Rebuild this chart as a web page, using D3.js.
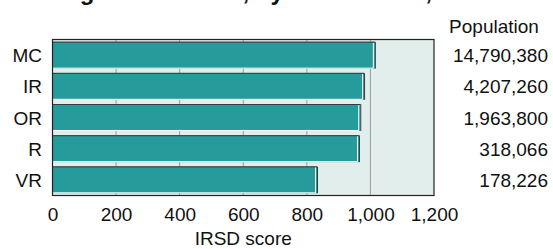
<!DOCTYPE html>
<html>
<head>
<meta charset="utf-8">
<script src="https://cdn.jsdelivr.net/npm/d3@7"></script>
<style>
  body { margin: 0; background: #fff; }
  svg text { font-family: "Liberation Sans", Arial, sans-serif; fill: #111; }
</style>
</head>
<body>
<script>
'use strict';

// chart data
const regions = ["MC", "IR", "OR", "R", "VR"];
const irsdScores = [1014, 980, 968, 964, 832];
const populations = [14790380, 4207260, 1963800, 318066, 178226];
const xTicks = [0, 200, 400, 600, 800, 1000, 1200];

const width = 553, height = 249;
const plot = { left: 52.5, right: 434, top: 39.5, bottom: 195.5 };

const svg = d3.select('body').append('svg')
  .attr('width', width)
  .attr('height', height);

const x = d3.scaleLinear()
  .domain([0, 1200])
  .range([plot.left, plot.right]);

const y = d3.scaleBand()
  .domain(regions)
  .range([plot.top, plot.bottom])
  .paddingInner(0.135)
  .paddingOuter(0.07);

// title (cut off at top of the image)
svg.append('text')
  .attr('x', 14)
  .attr('y', -0.5)
  .style('font-size', '24px')
  .style('font-weight', 'bold')
  .text('Average IRSD score, by remoteness, Victoria');

// plot background
svg.append('rect')
  .attr('x', plot.left)
  .attr('y', plot.top)
  .attr('width', plot.right - plot.left)
  .attr('height', plot.bottom - plot.top)
  .attr('fill', '#e2eeeb');

// vertical gridlines
svg.append('g')
  .selectAll('line')
  .data(xTicks.slice(1, -1))
  .enter()
  .append('line')
    .attr('x1', d => x(d))
    .attr('x2', d => x(d))
    .attr('y1', plot.top)
    .attr('y2', plot.bottom)
    .attr('stroke', '#9a9a9a')
    .attr('stroke-width', 1);

// bars
const bars = svg.append('g')
  .selectAll('g')
  .data(regions)
  .enter()
  .append('g');

bars.append('rect')
  .attr('x', x(0))
  .attr('y', d => y(d))
  .attr('width', (d, i) => x(irsdScores[i]) - x(0))
  .attr('height', y.bandwidth())
  .attr('fill', '#269b9b');

// white highlight along bottom and right side
bars.append('path')
  .attr('d', (d, i) => {
    const x1 = x(irsdScores[i]) - 1.5, y0 = y(d) + 1, y1 = y(d) + y.bandwidth() - 0.5;
    return `M${x(0)},${y1}H${x1}V${y0}`;
  })
  .attr('fill', 'none')
  .attr('stroke', '#ffffff')
  .attr('stroke-width', 1);

// dark outline on top and right
bars.append('path')
  .attr('d', (d, i) => {
    const x1 = x(irsdScores[i]) + 0.5, y0 = y(d) + 0.5, y1 = y(d) + y.bandwidth();
    return `M${x(0)},${y0}H${x1}V${y1}`;
  })
  .attr('fill', 'none')
  .attr('stroke', '#3a3a3a')
  .attr('stroke-width', 1);

// plot frame
svg.append('rect')
  .attr('x', plot.left)
  .attr('y', plot.top)
  .attr('width', plot.right - plot.left)
  .attr('height', plot.bottom - plot.top)
  .attr('fill', 'none')
  .attr('stroke', '#222')
  .attr('stroke-width', 1.2);

// x axis labels
const xAxis = d3.axisBottom(x)
  .tickValues(xTicks)
  .tickFormat(d3.format(','))
  .tickSize(0)
  .tickPadding(12.5);

const gx = svg.append('g')
  .attr('transform', `translate(0, ${plot.bottom})`)
  .call(xAxis);
gx.select('.domain').remove();
gx.selectAll('text')
  .style('font-size', '19px')
  .attr('fill', '#111');

svg.append('text')
  .attr('x', (plot.left + plot.right) / 2)
  .attr('y', 245)
  .attr('text-anchor', 'middle')
  .style('font-size', '19px')
  .text('IRSD score');

// category labels
svg.append('g')
  .selectAll('text')
  .data(regions)
  .enter()
  .append('text')
    .attr('x', 42)
    .attr('y', d => y(d) + y.bandwidth() / 2 + 7)
    .attr('text-anchor', 'end')
    .style('font-size', '19px')
    .text(d => d);

// population column
svg.append('text')
  .attr('x', 494)
  .attr('y', 33)
  .attr('text-anchor', 'middle')
  .style('font-size', '19px')
  .text('Population');

svg.append('g')
  .selectAll('text')
  .data(populations)
  .enter()
  .append('text')
    .attr('x', 548)
    .attr('y', (d, i) => y(regions[i]) + y.bandwidth() / 2 + 7)
    .attr('text-anchor', 'end')
    .style('font-size', '19px')
    .text(d => d3.format(',')(d));
</script>
</body>
</html>
